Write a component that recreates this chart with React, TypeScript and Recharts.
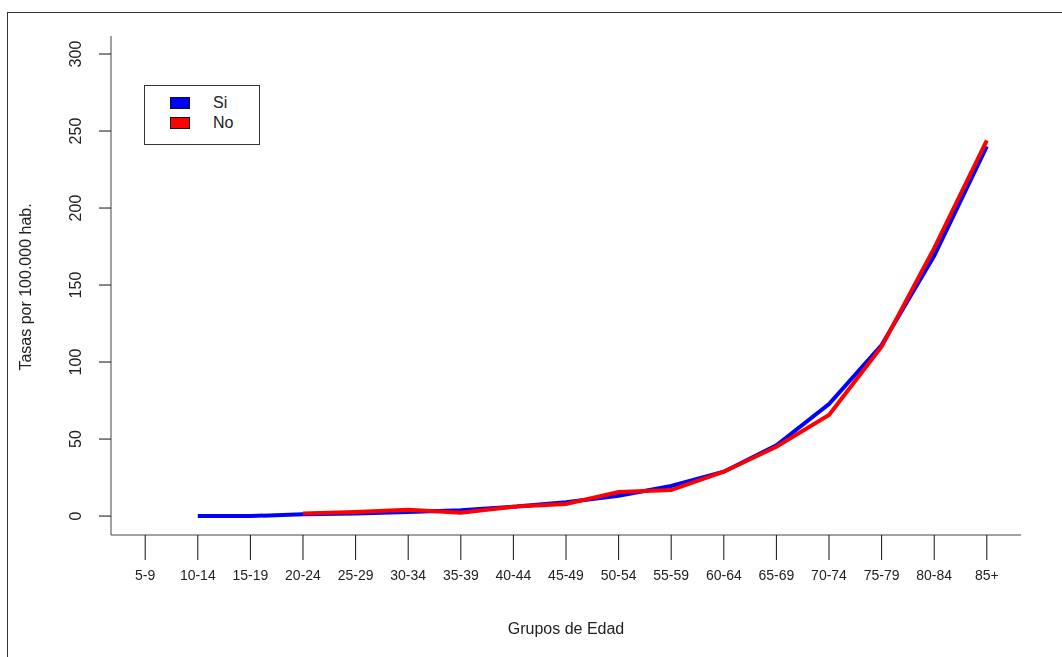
import React from 'react';
import { LineChart, Line, XAxis, YAxis, Label } from 'recharts';

const ageGroups = [
  '5-9', '10-14', '15-19', '20-24', '25-29', '30-34', '35-39', '40-44', '45-49',
  '50-54', '55-59', '60-64', '65-69', '70-74', '75-79', '80-84', '85+',
];

// tasas por 100.000 hab. (null = sin dato)
const siRates = [null, 0, 0, 1.1, 1.7, 2.6, 3.7, 6.0, 8.9, 13.2, 19.5, 28.8, 46, 72.7, 111, 169, 240];
const noRates = [null, null, null, 1.7, 2.6, 4.1, 2.2, 6.1, 7.8, 15.6, 16.9, 28.8, 45, 65.6, 110, 174, 244];

const yTicks = [0, 50, 100, 150, 200, 250, 300];

const series = [
  { key: 'Si', color: '#0000ff' },
  { key: 'No', color: '#ff0000' },
];

const data = ageGroups.map((g, i) => ({ idx: i + 1, group: g, Si: siRates[i], No: noRates[i] }));

const FONT = 'Liberation Sans, Arial, sans-serif';

const YTick = (props: any) => {
  const { y, payload } = props;
  return (
    <text
      x={73}
      y={y}
      transform={`rotate(-90, 73, ${y})`}
      textAnchor="middle"
      fontSize={16}
      fontFamily={FONT}
      fill="#222"
    >
      {payload.value}
    </text>
  );
};

const XTick = (props: any) => {
  const { x, y, payload } = props;
  return (
    <text x={x} y={y} dy="0.71em" textAnchor="middle" fontSize={14} fontFamily={FONT} fill="#222">
      {ageGroups[payload.value - 1]}
    </text>
  );
};

const LegendBox = () => (
  <div
    style={{
      position: 'absolute',
      left: 136,
      top: 77,
      width: 114,
      height: 51,
      border: '1px solid #333',
      background: '#fff',
      fontFamily: FONT,
      fontSize: 16,
      color: '#222',
      paddingTop: 7,
    }}
  >
    {series.map((s) => (
      <div key={s.key} style={{ display: 'flex', alignItems: 'center', height: 20 }}>
        <span
          style={{
            display: 'inline-block',
            width: 18,
            height: 10,
            marginLeft: 25,
            marginRight: 23,
            background: s.color,
            border: '1px solid #111',
          }}
        />
        <span>{s.key}</span>
      </div>
    ))}
  </div>
);

export default function App() {
  return (
    <div style={{ position: 'relative', width: 1054, height: 649 }}>
      <style>{'body{overflow:hidden}'}</style>
      <div style={{ position: 'fixed', left: 7, top: 12, width: 1055, height: 1, background: '#333' }} />
      <div style={{ position: 'fixed', left: 7, top: 12, width: 1, height: 645, background: '#333' }} />
      <LineChart width={1054} height={649} data={data} margin={{ top: 28, right: 41, bottom: 32, left: 33 }}>
        <XAxis
          dataKey="idx"
          type="number"
          domain={[0.35, 17.65]}
          ticks={data.map((d) => d.idx)}
          interval={0}
          height={90}
          tickSize={25}
          tickMargin={10}
          stroke="#444"
          tickLine={{ stroke: '#111' }}
          tick={<XTick />}
        >
          <Label
            content={() => (
              <text x={558} y={626} textAnchor="middle" fontSize={16} fontFamily={FONT} fill="#222">
                Grupos de Edad
              </text>
            )}
          />
        </XAxis>
        <YAxis
          type="number"
          domain={[-12.3, 311.7]}
          ticks={yTicks}
          width={70}
          tickSize={12}
          stroke="#444"
          tickLine={{ stroke: '#111' }}
          tick={<YTick />}
          allowDataOverflow
        >
          <Label
            content={() => (
              <text
                x={23}
                y={279}
                transform="rotate(-90, 23, 279)"
                textAnchor="middle"
                fontSize={16}
                fontFamily={FONT}
                fill="#222"
              >
                Tasas por 100.000 hab.
              </text>
            )}
          />
        </YAxis>
        {series.map((s) => (
          <Line
            key={s.key}
            dataKey={s.key}
            stroke={s.color}
            strokeWidth={4}
            dot={false}
            isAnimationActive={false}
          />
        ))}
      </LineChart>
      <LegendBox />
    </div>
  );
}
